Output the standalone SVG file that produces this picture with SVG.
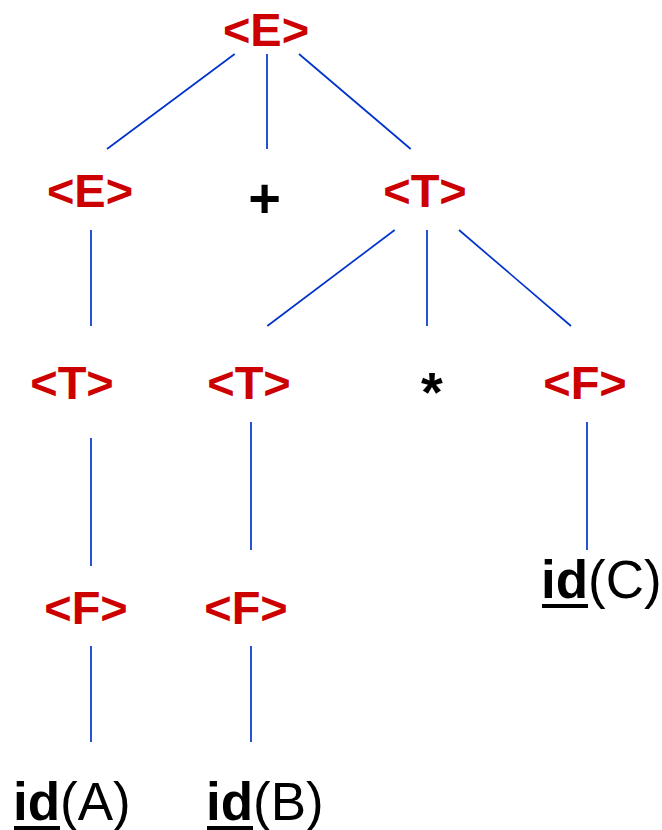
<svg xmlns="http://www.w3.org/2000/svg" width="662" height="830" viewBox="0 0 662 830">
<style>
.nt{font-family:"Liberation Sans",Arial,sans-serif;font-weight:bold;font-size:47px;fill:#cc0000;text-anchor:middle}
.op{font-family:"Liberation Sans",Arial,sans-serif;font-weight:bold;fill:#000000;text-anchor:middle}
.id{font-family:"Liberation Sans",Arial,sans-serif;font-size:53px;fill:#000000}
.b{font-weight:bold}
.ul{fill:#000000}
.edges line{stroke:#0033cc;stroke-width:1.7}
</style>
<rect width="662" height="830" fill="#ffffff"/>
<g class="edges" id="connectors">
<line x1="234.7" y1="54" x2="107" y2="149"/>
<line x1="267" y1="54" x2="267" y2="149"/>
<line x1="299" y1="54" x2="410.7" y2="149"/>
<line x1="91" y1="230" x2="91" y2="326"/>
<line x1="394.7" y1="230" x2="267.3" y2="326"/>
<line x1="427" y1="230" x2="427" y2="326"/>
<line x1="459" y1="230" x2="571" y2="326"/>
<line x1="91" y1="438" x2="91" y2="566"/>
<line x1="251" y1="422" x2="251" y2="550"/>
<line x1="587" y1="422" x2="587" y2="550"/>
<line x1="91" y1="646" x2="91" y2="742"/>
<line x1="251" y1="646" x2="251" y2="742"/>
</g>
<g id="E1"><text class="nt" x="266" y="46">&lt;E&gt;</text></g>
<g id="E2"><text class="nt" x="90" y="207">&lt;E&gt;</text></g>
<g id="plus"><text class="op" x="264.5" y="217" font-size="56">+</text></g>
<g id="T1"><text class="nt" x="425" y="207">&lt;T&gt;</text></g>
<g id="T2"><text class="nt" x="72" y="399">&lt;T&gt;</text></g>
<g id="T3"><text class="nt" x="249" y="399">&lt;T&gt;</text></g>
<g id="star"><text class="op" x="432" y="411" font-size="56">*</text></g>
<g id="F1"><text class="nt" x="585" y="399">&lt;F&gt;</text></g>
<g id="F2"><text class="nt" x="86" y="624">&lt;F&gt;</text></g>
<g id="F3"><text class="nt" x="246" y="624">&lt;F&gt;</text></g>
<g id="idC"><text class="id" x="541" y="598"><tspan class="b">id</tspan>(C)</text><rect class="ul" x="542" y="604" width="46" height="4"/></g>
<g id="idA"><text class="id" x="13" y="820"><tspan class="b">id</tspan>(A)</text><rect class="ul" x="14" y="826" width="46" height="4"/></g>
<g id="idB"><text class="id" x="206" y="820"><tspan class="b">id</tspan>(B)</text><rect class="ul" x="207" y="826" width="46" height="4"/></g>
</svg>
